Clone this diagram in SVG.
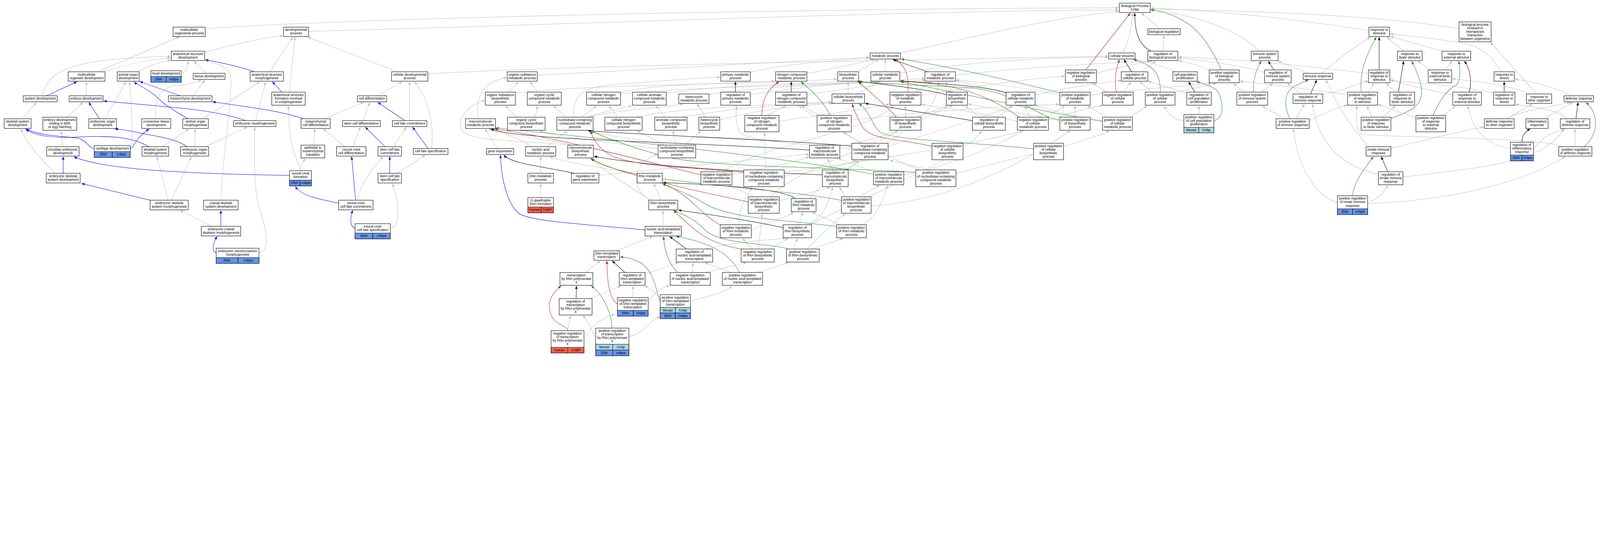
<svg xmlns="http://www.w3.org/2000/svg" width="6129" height="1373" viewBox="0 0 6129 1373">
<style>
svg{max-width:100%;height:auto}
.bx{fill:#fff;stroke:#000;stroke-width:1.6}
.zf{fill:#6495ed;stroke:#000;stroke-width:1.5}
.ms{fill:#add8e6;stroke:#000;stroke-width:1.5}
.hu{fill:#ff6347;stroke:#000;stroke-width:1.5}
text{font-family:"Liberation Sans",Arial,sans-serif;font-size:13px;text-anchor:middle;fill:#000}
#edges path{fill:none;stroke-width:1.5}
.g{stroke:#c0c0c0;marker-end:url(#ag)}
.b{stroke:#0000ff;marker-end:url(#ab)}
.k{stroke:#000;marker-end:url(#ak)}
.r{stroke:#b22222;marker-end:url(#ar)}
.v{stroke:#228b22;marker-end:url(#av)}
</style>
<defs>
<marker id="ag" viewBox="0 0 10 8" refX="10" refY="4" markerWidth="12" markerHeight="9.6" markerUnits="userSpaceOnUse" orient="auto"><path d="M0,0L10,4L0,8z" fill="#c0c0c0"/></marker>
<marker id="ab" viewBox="0 0 10 8" refX="10" refY="4" markerWidth="12" markerHeight="9.6" markerUnits="userSpaceOnUse" orient="auto"><path d="M0,0L10,4L0,8z" fill="#0000ff"/></marker>
<marker id="ak" viewBox="0 0 10 8" refX="10" refY="4" markerWidth="12" markerHeight="9.6" markerUnits="userSpaceOnUse" orient="auto"><path d="M0,0L10,4L0,8z" fill="#000"/></marker>
<marker id="ar" viewBox="0 0 10 8" refX="10" refY="4" markerWidth="12" markerHeight="9.6" markerUnits="userSpaceOnUse" orient="auto"><path d="M0,0L10,4L0,8z" fill="#b22222"/></marker>
<marker id="av" viewBox="0 0 10 8" refX="10" refY="4" markerWidth="12" markerHeight="9.6" markerUnits="userSpaceOnUse" orient="auto"><path d="M0,0L10,4L0,8z" fill="#228b22"/></marker>
</defs>
<rect x="0" y="0" width="6129" height="1373" fill="#fff"/>
<g id="edges">
<path class="g" d="M786,110 C1500,60 3500,30 4286,30"/>
<path class="g" d="M1182,120 C2000,100 3500,40 4286,38"/>
<path class="g" d="M784,200 C900,170 1000,145 1084,137"/>
<path class="g" d="M374,275 L688,141"/>
<path class="g" d="M394,275 C500,240 600,225 654,222"/>
<path class="g" d="M526,275 C560,255 610,238 654,230"/>
<path class="g" d="M696,281 C715,276 720,255 720,234"/>
<path class="g" d="M789,281 L743,234"/>
<path class="g" d="M1034,275 L1122,142"/>
<path class="g" d="M160,367 C190,270 260,225 654,216"/>
<path class="g" d="M330,367 L331,313"/>
<path class="g" d="M739,367 L785,306"/>
<path class="g" d="M85,455 L140,392"/>
<path class="g" d="M257,449 L318,392"/>
<path class="g" d="M402,455 L483,313"/>
<path class="g" d="M596,455 C592,380 605,330 690,326 C730,324 755,312 772,306"/>
<path class="g" d="M777,455 L995,313"/>
<path class="g" d="M979,462 L1018,313"/>
<path class="g" d="M240,562 L234,501"/>
<path class="g" d="M500,566 C512,540 505,420 496,313"/>
<path class="g" d="M622,562 L723,494"/>
<path class="g" d="M746,562 L748,494"/>
<path class="g" d="M785,562 L947,487"/>
<path class="g" d="M210,664 C150,600 110,560 79,494"/>
<path class="g" d="M644,767 L601,600"/>
<path class="g" d="M657,767 L733,600"/>
<path class="g" d="M847,767 C850,600 900,330 880,280 C870,255 820,240 786,231"/>
<path class="g" d="M811,867 L690,806"/>
<path class="g" d="M992,968 C1035,965 1020,880 1000,820 C975,750 972,650 976,487"/>
<path class="g" d="M1108,353 L1130,142"/>
<path class="g" d="M1523,275 L1178,142"/>
<path class="g" d="M1639,283 C2200,250 3500,230 4245,215"/>
<path class="g" d="M1444,367 L1541,313"/>
<path class="g" d="M1241,455 L1393,392"/>
<path class="g" d="M1390,462 L1417,392"/>
<path class="g" d="M1569,462 L1569,313"/>
<path class="g" d="M1201,556 L1206,494"/>
<path class="g" d="M1321,562 L1238,494"/>
<path class="g" d="M1353,562 L1380,487"/>
<path class="g" d="M1507,562 L1557,487"/>
<path class="g" d="M1653,569 C1662,480 1650,390 1588,313"/>
<path class="g" d="M1151,654 C1151,620 1105,600 1105,405"/>
<path class="g" d="M1152,654 C1152,635 1160,620 1170,607"/>
<path class="g" d="M1521,664 L1629,594"/>
<path class="g" d="M1369,767 C1375,720 1420,650 1467,600"/>
<path class="g" d="M1495,874 C1530,870 1535,800 1503,703"/>
<path class="g" d="M3449,203 C3700,150 4000,70 4286,44"/>
<path class="g" d="M2058,288 C2500,265 3000,240 3331,219"/>
<path class="g" d="M2874,277 C3000,245 3200,232 3331,222"/>
<path class="g" d="M3391,275 L3391,228"/>
<path class="g" d="M3284,275 L3366,228"/>
<path class="g" d="M3091,282 C3200,260 3300,240 3350,228"/>
<path class="g" d="M3447,280 C3700,240 3950,220 4245,219"/>
<path class="g" d="M1950,353 L1985,313"/>
<path class="g" d="M1974,356 C2300,320 2900,325 3207,303"/>
<path class="g" d="M2060,353 L2030,313"/>
<path class="g" d="M2377,355 C2500,320 2800,320 2969,310"/>
<path class="g" d="M2377,360 C2700,330 3100,330 3345,313"/>
<path class="g" d="M2552,358 C2800,320 3100,320 3360,313"/>
<path class="g" d="M2716,362 C2900,330 3200,325 3375,313"/>
<path class="g" d="M1833,455 C1815,380 1850,310 1941,298"/>
<path class="g" d="M1980,449 L1935,405"/>
<path class="g" d="M2050,449 L2060,405"/>
<path class="g" d="M2171,449 L2119,405"/>
<path class="g" d="M2230,449 L2285,405"/>
<path class="g" d="M2250,449 C2320,425 2380,415 2421,405"/>
<path class="g" d="M2255,449 C2350,420 2550,415 2617,398"/>
<path class="g" d="M2198,449 C2195,360 2230,335 2350,325 C2500,312 2650,300 2759,296"/>
<path class="g" d="M2368,449 L2332,405"/>
<path class="g" d="M2437,449 C2600,410 3000,400 3185,390"/>
<path class="g" d="M2548,449 L2513,405"/>
<path class="g" d="M2612,449 C2800,415 3000,400 3188,393"/>
<path class="g" d="M2703,449 L2670,398"/>
<path class="g" d="M2757,460 C2900,420 3050,405 3190,396"/>
<path class="g" d="M3249,360 L3249,313"/>
<path class="g" d="M3283,360 L3365,313"/>
<path class="g" d="M2190,556 C2100,530 1950,525 1872,494"/>
<path class="g" d="M2185,556 C2050,540 1800,545 1770,500 C1745,450 1800,400 1857,385"/>
<path class="g" d="M2540,556 C2450,530 2300,520 2255,501"/>
<path class="g" d="M2546,556 L2441,501"/>
<path class="g" d="M2588,556 L2578,501"/>
<path class="g" d="M2623,556 L2685,501"/>
<path class="g" d="M2521,570 C2300,540 2150,530 2066,501"/>
<path class="g" d="M1907,569 L1858,494"/>
<path class="g" d="M2096,562 L2172,501"/>
<path class="g" d="M2037,562 C1990,530 1930,510 1880,494"/>
<path class="g" d="M2071,664 L2071,600"/>
<path class="g" d="M2071,757 L2071,703"/>
<path class="g" d="M2441,669 C2300,640 2150,620 2106,600"/>
<path class="g" d="M2532,767 L2504,703"/>
<path class="g" d="M2495,767 C2410,730 2420,620 2521,592"/>
<path class="g" d="M2493,767 C2420,720 2320,660 2263,607"/>
<path class="g" d="M2540,867 L2540,806"/>
<path class="g" d="M2360,961 L2500,906"/>
<path class="g" d="M2240,1044 L2300,999"/>
<path class="g" d="M4445,110 L4372,50"/>
<path class="g" d="M4300,203 C4330,150 4335,90 4338,50"/>
<path class="g" d="M4456,196 L4458,135"/>
<path class="g" d="M4822,196 C4750,120 4600,60 4408,38"/>
<path class="g" d="M5244,117 C5000,80 4700,40 4408,32"/>
<path class="g" d="M5589,110 C5300,60 4800,40 4408,35"/>
<path class="g" d="M4200,280 C4300,255 4380,240 4405,234"/>
<path class="g" d="M4372,275 L4428,234"/>
<path class="g" d="M4632,268 C4600,250 4550,240 4514,232"/>
<path class="g" d="M4844,277 C4750,250 4600,230 4514,222"/>
<path class="g" d="M3660,288 C3900,260 4250,240 4415,234"/>
<path class="g" d="M5242,282 C5000,250 4700,225 4514,218"/>
<path class="g" d="M5013,281 L4895,234"/>
<path class="g" d="M5063,281 C5120,230 5200,170 5250,142"/>
<path class="g" d="M4307,353 L4332,313"/>
<path class="g" d="M4240,353 L4185,319"/>
<path class="g" d="M4415,353 L4366,313"/>
<path class="g" d="M4500,354 C4560,340 4620,330 4660,319"/>
<path class="g" d="M4503,275 C4450,250 4380,232 4340,228"/>
<path class="g" d="M4546,356 C4490,340 4430,320 4397,311"/>
<path class="g" d="M4593,439 L4593,405"/>
<path class="g" d="M4535,462 C4490,460 4470,430 4460,405"/>
<path class="g" d="M4830,353 L4876,319"/>
<path class="g" d="M4765,353 L4725,319"/>
<path class="g" d="M4987,360 L4931,319"/>
<path class="g" d="M5067,362 C5140,350 5200,320 5242,310"/>
<path class="g" d="M4964,455 L4997,398"/>
<path class="g" d="M4920,455 L4835,405"/>
<path class="g" d="M5015,462 C5080,430 5130,410 5162,402"/>
<path class="g" d="M3508,353 L3569,313"/>
<path class="g" d="M3528,365 C3750,330 3950,300 4079,292"/>
<path class="g" d="M4060,365 C3900,330 3750,315 3662,306"/>
<path class="g" d="M4176,365 C4350,340 4550,330 4640,319"/>
<path class="g" d="M2874,362 C3150,320 3400,310 3543,300"/>
<path class="g" d="M3091,362 C3300,330 3450,315 3545,306"/>
<path class="g" d="M3650,353 L3620,313"/>
<path class="g" d="M3854,356 L3662,308"/>
<path class="g" d="M3965,365 C4100,330 4250,315 4295,308"/>
<path class="g" d="M2940,442 L3010,405"/>
<path class="g" d="M2984,465 C3200,430 3350,415 3407,398"/>
<path class="g" d="M3140,442 L3070,405"/>
<path class="g" d="M3261,460 C3600,420 3900,405 4058,400"/>
<path class="g" d="M3510,449 L3630,405"/>
<path class="g" d="M3468,449 L3468,405"/>
<path class="g" d="M3755,449 L3697,405"/>
<path class="g" d="M3821,449 L3880,405"/>
<path class="g" d="M3945,449 L3925,405"/>
<path class="g" d="M4016,462 C4100,430 4180,410 4225,405"/>
<path class="g" d="M3897,465 C3750,430 3600,410 3530,400"/>
<path class="g" d="M4060,462 C3900,430 3760,410 3708,398"/>
<path class="g" d="M4118,449 L4118,405"/>
<path class="g" d="M4240,449 L4165,405"/>
<path class="g" d="M4326,449 L4395,405"/>
<path class="g" d="M4223,462 C4100,440 4000,420 3965,400"/>
<path class="g" d="M3217,560 C3450,520 3590,450 3595,313"/>
<path class="g" d="M3402,560 C3600,500 3800,440 3880,405"/>
<path class="g" d="M3300,549 C3200,480 3100,440 3060,405"/>
<path class="g" d="M3263,570 C3000,545 2850,540 2830,500 C2815,460 2820,430 2822,405"/>
<path class="g" d="M3190,651 L3170,607"/>
<path class="g" d="M3240,651 C3350,600 3500,450 3650,405"/>
<path class="g" d="M2294,672 C2600,640 2900,610 3099,590"/>
<path class="g" d="M2804,670 C2950,640 3050,620 3099,600"/>
<path class="g" d="M2770,658 C2900,560 3350,500 3420,405"/>
<path class="g" d="M3350,660 L3210,607"/>
<path class="g" d="M3462,670 C3800,600 4000,450 4080,405"/>
<path class="g" d="M3004,675 C3150,650 3250,630 3280,614"/>
<path class="g" d="M2932,651 L2929,507"/>
<path class="g" d="M3004,660 C3300,620 3700,560 3920,501"/>
<path class="g" d="M3559,651 L3408,614"/>
<path class="g" d="M3520,651 C3400,600 3300,550 3230,507"/>
<path class="g" d="M3662,665 C3900,600 4150,550 4250,501"/>
<path class="g" d="M2985,770 C3080,740 3150,730 3180,717"/>
<path class="g" d="M2950,754 C3050,650 3350,560 3440,501"/>
<path class="g" d="M2890,754 L2790,710"/>
<path class="g" d="M3100,761 C3150,700 3250,650 3290,614"/>
<path class="g" d="M3240,754 L3215,717"/>
<path class="g" d="M3290,754 L3370,710"/>
<path class="g" d="M3337,790 C3700,760 3950,600 4100,501"/>
<path class="g" d="M2878,880 C2950,850 3020,830 3040,813"/>
<path class="g" d="M2830,861 C2830,780 2870,740 2880,717"/>
<path class="g" d="M3060,861 L3075,813"/>
<path class="g" d="M3100,861 C3300,760 3700,600 3760,501"/>
<path class="g" d="M3090,861 C3150,840 3170,790 3190,717"/>
<path class="g" d="M3220,861 L3110,813"/>
<path class="g" d="M3300,861 C3350,840 3380,780 3400,710"/>
<path class="g" d="M2700,954 C2850,920 2950,920 3010,913"/>
<path class="g" d="M2950,954 L3020,913"/>
<path class="g" d="M2880,954 L2845,913"/>
<path class="g" d="M2905,954 L2920,819"/>
<path class="g" d="M3040,954 L3055,913"/>
<path class="g" d="M3110,954 L3230,913"/>
<path class="g" d="M3090,954 C3150,900 3180,860 3240,819"/>
<path class="g" d="M2650,1044 L2655,1006"/>
<path class="g" d="M2700,1044 L2860,1006"/>
<path class="g" d="M2800,1044 L2700,1006"/>
<path class="g" d="M2900,1044 L3020,1006"/>
<path class="g" d="M2471,1050 L2600,1006"/>
<path class="g" d="M2260,1144 L2380,1095"/>
<path class="g" d="M2424,1140 L2424,1095"/>
<path class="g" d="M2483,1163 C2495,1150 2500,1110 2565,1095"/>
<path class="g" d="M2529,1140 C2510,1120 2480,1100 2468,1095"/>
<path class="g" d="M2645,1153 C2700,1140 2780,1120 2805,1095"/>
<path class="g" d="M2175,1267 L2185,1209"/>
<path class="g" d="M2237,1297 C2255,1290 2245,1240 2355,1204"/>
<path class="g" d="M2282,1290 C2270,1285 2265,1240 2232,1209"/>
<path class="g" d="M2409,1288 C2450,1288 2480,1240 2527,1212"/>
<path class="g" d="M5377,196 L5313,142"/>
<path class="g" d="M5523,196 L5326,140"/>
<path class="g" d="M5480,268 L5430,234"/>
<path class="g" d="M5537,268 L5562,234"/>
<path class="g" d="M5750,275 C5720,220 5680,180 5600,165 C5480,145 5380,135 5325,130"/>
<path class="g" d="M5240,353 L5263,319"/>
<path class="g" d="M5162,362 C5000,340 4850,320 4749,312"/>
<path class="g" d="M5345,353 L5310,319"/>
<path class="g" d="M5565,363 C5450,340 5360,320 5326,304"/>
<path class="g" d="M5721,356 C5600,330 5450,320 5326,308"/>
<path class="g" d="M5858,360 C5800,330 5650,310 5563,302"/>
<path class="g" d="M5886,360 L5710,162"/>
<path class="g" d="M6022,367 C5950,330 5850,310 5803,303"/>
<path class="g" d="M5297,449 L5346,405"/>
<path class="g" d="M5256,449 L5236,405"/>
<path class="g" d="M5527,442 L5577,405"/>
<path class="g" d="M5424,451 L5279,400"/>
<path class="g" d="M5772,455 L5870,398"/>
<path class="g" d="M5773,455 C5830,420 5950,410 6015,391"/>
<path class="g" d="M5915,455 L6025,392"/>
<path class="g" d="M6006,455 C5970,420 5880,410 5805,400"/>
<path class="g" d="M5328,568 C5450,540 5600,500 5684,487"/>
<path class="g" d="M5245,562 C5180,500 5120,400 5080,306"/>
<path class="g" d="M5874,568 C5890,560 5900,520 5996,494"/>
<path class="g" d="M5786,568 C5700,560 5640,500 5622,405"/>
<path class="g" d="M6034,562 L6034,494"/>
<path class="g" d="M5986,562 C5900,525 5400,530 5220,515 C5190,510 5195,450 5198,405"/>
<path class="g" d="M5285,670 C5150,640 5050,560 5028,398"/>
<path class="g" d="M5374,678 C5700,640 5920,620 5990,494"/>
<path class="g" d="M5239,774 C5270,770 5300,740 5317,710"/>
<path class="g" d="M5123,775 C5050,760 4970,650 4955,494"/>
<path class="g" d="M5239,780 C5500,770 5800,720 5996,600"/>
<path class="k" d="M4408,196 C4360,170 4347,120 4347,50"/>
<path class="k" d="M4335,275 L4305,228"/>
<path class="k" d="M3553,275 L3420,228"/>
<path class="k" d="M2817,353 L2817,313"/>
<path class="k" d="M3031,353 L3031,313"/>
<path class="k" d="M3625,363 C3560,345 3450,330 3285,312"/>
<path class="k" d="M3855,356 C3780,330 3600,320 3449,310"/>
<path class="k" d="M3725,462 L3314,396"/>
<path class="k" d="M3101,575 C2600,540 2000,540 1880,494"/>
<path class="k" d="M3263,560 C3000,535 2500,520 2252,501"/>
<path class="k" d="M2200,664 C2100,640 1960,630 1930,594"/>
<path class="k" d="M3150,670 C2900,660 2500,640 2275,599"/>
<path class="k" d="M3046,761 C3000,720 2700,705 2539,700"/>
<path class="k" d="M3000,872 C2850,840 2700,820 2598,805"/>
<path class="k" d="M2630,954 L2565,906"/>
<path class="k" d="M2394,1044 L2345,999"/>
<path class="k" d="M2207,1144 L2208,1095"/>
<path class="k" d="M4577,353 L4553,313"/>
<path class="k" d="M4880,268 L4858,234"/>
<path class="k" d="M5020,360 L5044,306"/>
<path class="k" d="M5283,268 L5283,142"/>
<path class="k" d="M5357,353 L5377,234"/>
<path class="k" d="M5628,353 C5640,310 5630,260 5609,234"/>
<path class="k" d="M5762,353 L5762,313"/>
<path class="k" d="M6037,455 L6045,392"/>
<path class="k" d="M5830,545 C5830,520 5840,505 5862,494"/>
<path class="k" d="M5316,658 L5291,600"/>
<path class="r" d="M4159,268 L4330,50"/>
<path class="r" d="M4276,353 C4268,300 4275,260 4289,228"/>
<path class="r" d="M3477,353 C3482,290 3470,250 3428,228"/>
<path class="r" d="M2918,442 C2920,380 2940,340 2985,313"/>
<path class="r" d="M3434,449 C3400,410 3330,350 3288,313"/>
<path class="r" d="M3905,449 C3800,380 3700,320 3449,312"/>
<path class="r" d="M3570,561 C3450,530 3330,540 3300,480 C3280,440 3270,420 3265,398"/>
<path class="r" d="M2685,670 C2400,600 2100,520 1895,494"/>
<path class="r" d="M2849,660 C2650,640 2450,640 2350,600 C2290,570 2270,530 2263,501"/>
<path class="r" d="M2866,773 C2650,730 2350,660 2262,607"/>
<path class="r" d="M2759,862 C2680,820 2640,740 2537,703"/>
<path class="r" d="M2839,954 C2700,930 2660,880 2580,806"/>
<path class="r" d="M2597,1044 C2560,1010 2545,960 2542,906"/>
<path class="r" d="M2365,1164 C2340,1150 2325,1100 2325,999"/>
<path class="r" d="M2175,1267 C2170,1240 2110,1250 2105,1180 C2100,1140 2130,1110 2150,1095"/>
<path class="v" d="M4679,268 C4620,140 4560,60 4408,37"/>
<path class="v" d="M4445,353 C4445,280 4420,250 4342,228"/>
<path class="v" d="M4060,356 C3800,290 3600,250 3451,226"/>
<path class="v" d="M3180,442 C3150,380 3100,340 3068,313"/>
<path class="v" d="M4060,460 C3950,440 3900,350 3700,335 C3500,325 3350,320 3290,313"/>
<path class="v" d="M4223,465 C4000,430 3700,360 3449,313"/>
<path class="v" d="M3959,571 C3700,540 3420,540 3370,505 C3340,480 3330,420 3290,398"/>
<path class="v" d="M3346,668 C3000,600 2300,530 1898,490"/>
<path class="v" d="M3508,660 C3200,640 2700,640 2550,600 C2400,560 2300,520 2265,501"/>
<path class="v" d="M3223,768 C3100,740 2800,720 2500,680 C2350,650 2290,630 2267,607"/>
<path class="v" d="M3205,868 C3000,840 2800,840 2700,780 C2620,730 2560,720 2539,703"/>
<path class="v" d="M3020,954 C2950,930 2760,940 2700,880 C2650,830 2600,815 2580,806"/>
<path class="v" d="M2833,1044 C2790,960 2700,925 2590,906"/>
<path class="v" d="M2529,1153 C2515,1140 2515,1040 2450,1005 C2420,990 2400,985 2375,985"/>
<path class="v" d="M2345,1257 C2340,1180 2300,1120 2264,1095"/>
<path class="v" d="M4801,353 C4800,300 4815,260 4832,234"/>
<path class="v" d="M4650,462 C4690,455 4690,390 4661,345 C4640,330 4610,320 4583,313"/>
<path class="v" d="M4941,455 C4915,400 4920,350 4960,330 C4985,318 5000,310 5013,306"/>
<path class="v" d="M5215,353 C5205,270 5240,200 5272,142"/>
<path class="v" d="M5328,454 C5420,420 5450,400 5445,340 C5440,300 5420,260 5408,234"/>
<path class="v" d="M5490,442 C5520,370 5550,340 5580,325 C5595,310 5595,260 5587,234"/>
<path class="v" d="M6068,562 C6120,520 6130,440 6075,392"/>
<path class="v" d="M5181,750 C5185,700 5230,640 5261,600"/>
<path class="b" d="M972,274 C900,250 820,235 786,229"/>
<path class="b" d="M178,367 L295,313"/>
<path class="b" d="M690,367 L535,312"/>
<path class="b" d="M381,455 L340,392"/>
<path class="b" d="M719,455 C680,430 640,410 610,380 C570,340 530,330 514,313"/>
<path class="b" d="M941,462 C880,440 800,425 700,415 C550,400 450,392 397,387"/>
<path class="b" d="M361,569 C335,565 335,535 290,528 C200,520 140,515 100,494"/>
<path class="b" d="M499,569 C515,565 515,530 572,494"/>
<path class="b" d="M570,562 C500,520 400,520 300,525 C200,530 130,520 98,494"/>
<path class="b" d="M717,562 C670,530 610,525 540,510 C490,500 460,495 440,494"/>
<path class="b" d="M242,664 L242,600"/>
<path class="b" d="M575,767 L312,703"/>
<path class="b" d="M846,867 L846,806"/>
<path class="b" d="M828,968 C810,965 815,930 832,906"/>
<path class="b" d="M1109,672 C700,665 400,650 283,601"/>
<path class="b" d="M1080,353 L1043,313"/>
<path class="b" d="M1161,455 C1080,425 950,410 814,390"/>
<path class="b" d="M1551,462 L1447,392"/>
<path class="b" d="M1475,562 L1399,487"/>
<path class="b" d="M1640,569 L1580,487"/>
<path class="b" d="M1493,664 L1493,600"/>
<path class="b" d="M1362,767 L1347,600"/>
<path class="b" d="M1297,778 C1230,765 1150,750 1132,714"/>
<path class="b" d="M1360,874 C1340,870 1340,830 1352,806"/>
<path class="b" d="M2471,881 C2250,860 2050,850 1990,820 C1940,780 1920,680 1917,594"/>
</g>
<g id="d1"><rect class="bx" x="663" y="104" width="123" height="36"/><text x="724.5" y="118.8">multicellular<tspan x="724.5" dy="13.5">organismal process</tspan></text></g>
<g id="d2"><rect class="bx" x="656" y="196" width="128" height="36"/><text x="720" y="210.8">anatomical structure<tspan x="720" dy="13.5">development</tspan></text></g>
<g id="d3"><rect class="bx" x="261" y="275" width="141" height="36"/><text x="331.5" y="289.8">multicellular<tspan x="331.5" dy="13.5">organism development</tspan></text></g>
<g id="d4"><rect class="bx" x="449" y="275" width="84" height="36"/><text x="491" y="289.8">animal organ<tspan x="491" dy="13.5">development</tspan></text></g>
<g id="d5"><rect class="bx" x="578" y="271" width="116" height="44"/><text x="636" y="285.5">head development</text><rect class="zf" x="578" y="293" width="59" height="22"/><rect class="zf" x="637" y="293" width="57" height="22"/><text x="607.5" y="308">Zfish</text><text x="665.5" y="308">cnbpa</text></g>
<g id="d6"><rect class="bx" x="740" y="281" width="122" height="23"/><text x="801" y="296">tissue development</text></g>
<g id="d7"><rect class="bx" x="958" y="275" width="128" height="36"/><text x="1022" y="289.8">anatomical structure<tspan x="1022" dy="13.5">morphogenesis</tspan></text></g>
<g id="d8"><rect class="bx" x="89" y="367" width="130" height="23"/><text x="154" y="382">system development</text></g>
<g id="d9"><rect class="bx" x="265" y="367" width="130" height="23"/><text x="330" y="382">embryo development</text></g>
<g id="d10"><rect class="bx" x="645" y="367" width="167" height="23"/><text x="728.5" y="382">mesenchyme development</text></g>
<g id="d11"><rect class="bx" x="16" y="455" width="103" height="37"/><text x="67.5" y="470.3">skeletal system<tspan x="67.5" dy="13.5">development</tspan></text></g>
<g id="d12"><rect class="bx" x="164" y="449" width="130" height="50"/><text x="229" y="464">embryo development<tspan x="229" dy="13.5">ending in birth</tspan><tspan x="229" dy="13.5">or egg hatching</tspan></text></g>
<g id="d13"><rect class="bx" x="340" y="455" width="106" height="37"/><text x="393" y="470.3">embryonic organ<tspan x="393" dy="13.5">development</tspan></text></g>
<g id="d14"><rect class="bx" x="543" y="455" width="111" height="37"/><text x="598.5" y="470.3">connective tissue<tspan x="598.5" dy="13.5">development</tspan></text></g>
<g id="d15"><rect class="bx" x="700" y="455" width="98" height="37"/><text x="749" y="470.3">animal organ<tspan x="749" dy="13.5">morphogenesis</tspan></text></g>
<g id="d16"><rect class="bx" x="895" y="462" width="162" height="23"/><text x="976" y="477">embryonic morphogenesis</text></g>
<g id="d17"><rect class="bx" x="179" y="562" width="124" height="36"/><text x="241" y="576.8">chordate embryonic<tspan x="241" dy="13.5">development</tspan></text></g>
<g id="d18"><rect class="bx" x="361" y="558" width="138" height="45"/><text x="430" y="573">cartilage development</text><rect class="zf" x="361" y="581" width="69" height="22"/><rect class="zf" x="430" y="581" width="69" height="22"/><text x="395.5" y="596">Zfish</text><text x="464.5" y="596">cnbpa</text></g>
<g id="d19"><rect class="bx" x="544" y="562" width="102" height="36"/><text x="595" y="576.8">skeletal system<tspan x="595" dy="13.5">morphogenesis</tspan></text></g>
<g id="d20"><rect class="bx" x="692" y="562" width="107" height="36"/><text x="745.5" y="576.8">embryonic organ<tspan x="745.5" dy="13.5">morphogenesis</tspan></text></g>
<g id="d21"><rect class="bx" x="177" y="664" width="130" height="37"/><text x="242" y="679.3">embryonic skeletal<tspan x="242" dy="13.5">system development</tspan></text></g>
<g id="d22"><rect class="bx" x="575" y="767" width="146" height="37"/><text x="648" y="782.3">embryonic skeletal<tspan x="648" dy="13.5">system morphogenesis</tspan></text></g>
<g id="d23"><rect class="bx" x="780" y="767" width="132" height="37"/><text x="846" y="782.3">cranial skeletal<tspan x="846" dy="13.5">system development</tspan></text></g>
<g id="d24"><rect class="bx" x="771" y="867" width="151" height="37"/><text x="846.5" y="882.3">embryonic cranial<tspan x="846.5" dy="13.5">skeleton morphogenesis</tspan></text></g>
<g id="d25"><rect class="bx" x="828" y="951" width="164" height="58"/><text x="910" y="965.8">embryonic viscerocranium<tspan x="910" dy="13.5">morphogenesis</tspan></text><rect class="zf" x="828" y="987" width="83" height="22"/><rect class="zf" x="911" y="987" width="81" height="22"/><text x="869.5" y="1002">Zfish</text><text x="951.5" y="1002">cnbpa</text></g>
<g id="d26"><rect class="bx" x="1086" y="104" width="96" height="36"/><text x="1134" y="118.8">developmental<tspan x="1134" dy="13.5">process</tspan></text></g>
<g id="d27"><rect class="bx" x="1041" y="353" width="128" height="50"/><text x="1105" y="368">anatomical structure<tspan x="1105" dy="13.5">formation involved</tspan><tspan x="1105" dy="13.5">in morphogenesis</tspan></text></g>
<g id="d28"><rect class="bx" x="1500" y="275" width="139" height="36"/><text x="1569.5" y="289.8">cellular developmental<tspan x="1569.5" dy="13.5">process</tspan></text></g>
<g id="d29"><rect class="bx" x="1369" y="367" width="112" height="23"/><text x="1425" y="382">cell differentiation</text></g>
<g id="d30"><rect class="bx" x="1153" y="455" width="112" height="37"/><text x="1209" y="470.3">mesenchymal<tspan x="1209" dy="13.5">cell differentiation</tspan></text></g>
<g id="d31"><rect class="bx" x="1312" y="462" width="145" height="23"/><text x="1384.5" y="477">stem cell differentiation</text></g>
<g id="d32"><rect class="bx" x="1503" y="462" width="132" height="23"/><text x="1569" y="477">cell fate commitment</text></g>
<g id="d33"><rect class="bx" x="1153" y="556" width="91" height="49"/><text x="1198.5" y="570.5">epithelial to<tspan x="1198.5" dy="13.5">mesenchymal</tspan><tspan x="1198.5" dy="13.5">transition</tspan></text></g>
<g id="d34"><rect class="bx" x="1289" y="562" width="113" height="36"/><text x="1345.5" y="576.8">neural crest<tspan x="1345.5" dy="13.5">cell differentiation</tspan></text></g>
<g id="d35"><rect class="bx" x="1448" y="562" width="90" height="36"/><text x="1493" y="576.8">stem cell fate<tspan x="1493" dy="13.5">commitment</tspan></text></g>
<g id="d36"><rect class="bx" x="1583" y="569" width="133" height="23"/><text x="1649.5" y="584">cell fate specification</text></g>
<g id="d37"><rect class="bx" x="1109" y="654" width="84" height="58"/><text x="1151" y="668.8">neural crest<tspan x="1151" dy="13.5">formation</tspan></text><rect class="zf" x="1109" y="690" width="40" height="22"/><rect class="zf" x="1149" y="690" width="44" height="22"/><text x="1129" y="705">Zfish</text><text x="1171" y="705">cnbpa</text></g>
<g id="d38"><rect class="bx" x="1448" y="664" width="90" height="37"/><text x="1493" y="679.3">stem cell fate<tspan x="1493" dy="13.5">specification</tspan></text></g>
<g id="d39"><rect class="bx" x="1297" y="767" width="132" height="37"/><text x="1363" y="782.3">neural crest<tspan x="1363" dy="13.5">cell fate commitment</tspan></text></g>
<g id="d40"><rect class="bx" x="1360" y="857" width="135" height="58"/><text x="1427.5" y="871.8">neural crest<tspan x="1427.5" dy="13.5">cell fate specification</tspan></text><rect class="zf" x="1360" y="893" width="68" height="22"/><rect class="zf" x="1428" y="893" width="67" height="22"/><text x="1394" y="908">Zfish</text><text x="1461.5" y="908">cnbpa</text></g>
<g id="m1"><rect class="bx" x="3333" y="203" width="116" height="23"/><text x="3391" y="218">metabolic process</text></g>
<g id="m2"><rect class="bx" x="1943" y="275" width="115" height="36"/><text x="2000.5" y="289.8">organic substance<tspan x="2000.5" dy="13.5">metabolic process</tspan></text></g>
<g id="m3"><rect class="bx" x="2761" y="275" width="113" height="36"/><text x="2817.5" y="289.8">primary metabolic<tspan x="2817.5" dy="13.5">process</tspan></text></g>
<g id="m4"><rect class="bx" x="2971" y="275" width="120" height="36"/><text x="3031" y="289.8">nitrogen compound<tspan x="3031" dy="13.5">metabolic process</tspan></text></g>
<g id="m5"><rect class="bx" x="3209" y="275" width="80" height="36"/><text x="3249" y="289.8">biosynthetic<tspan x="3249" dy="13.5">process</tspan></text></g>
<g id="m6"><rect class="bx" x="3336" y="275" width="111" height="36"/><text x="3391.5" y="289.8">cellular metabolic<tspan x="3391.5" dy="13.5">process</tspan></text></g>
<g id="m7"><rect class="bx" x="3543" y="275" width="117" height="36"/><text x="3601.5" y="289.8">regulation of<tspan x="3601.5" dy="13.5">metabolic process</tspan></text></g>
<g id="m8"><rect class="bx" x="1859" y="353" width="115" height="50"/><text x="1916.5" y="368">organic substance<tspan x="1916.5" dy="13.5">biosynthetic</tspan><tspan x="1916.5" dy="13.5">process</tspan></text></g>
<g id="m9"><rect class="bx" x="2020" y="353" width="130" height="50"/><text x="2085" y="368">organic cyclic<tspan x="2085" dy="13.5">compound metabolic</tspan><tspan x="2085" dy="13.5">process</tspan></text></g>
<g id="m10"><rect class="bx" x="2247" y="353" width="130" height="50"/><text x="2312" y="368">cellular nitrogen<tspan x="2312" dy="13.5">compound metabolic</tspan><tspan x="2312" dy="13.5">process</tspan></text></g>
<g id="m11"><rect class="bx" x="2423" y="353" width="129" height="50"/><text x="2487.5" y="368">cellular aromatic<tspan x="2487.5" dy="13.5">compound metabolic</tspan><tspan x="2487.5" dy="13.5">process</tspan></text></g>
<g id="m12"><rect class="bx" x="2600" y="360" width="116" height="36"/><text x="2658" y="374.8">heterocycle<tspan x="2658" dy="13.5">metabolic process</tspan></text></g>
<g id="m13"><rect class="bx" x="2761" y="353" width="113" height="50"/><text x="2817.5" y="368">regulation of<tspan x="2817.5" dy="13.5">primary metabolic</tspan><tspan x="2817.5" dy="13.5">process</tspan></text></g>
<g id="m14"><rect class="bx" x="2971" y="353" width="120" height="50"/><text x="3031" y="368">regulation of<tspan x="3031" dy="13.5">nitrogen compound</tspan><tspan x="3031" dy="13.5">metabolic process</tspan></text></g>
<g id="m15"><rect class="bx" x="3187" y="360" width="125" height="36"/><text x="3249.5" y="374.8">cellular biosynthetic<tspan x="3249.5" dy="13.5">process</tspan></text></g>
<g id="m16"><rect class="bx" x="3409" y="353" width="119" height="50"/><text x="3468.5" y="368">negative regulation<tspan x="3468.5" dy="13.5">of metabolic</tspan><tspan x="3468.5" dy="13.5">process</tspan></text></g>
<g id="m17"><rect class="bx" x="3625" y="353" width="81" height="50"/><text x="3665.5" y="368">regulation of<tspan x="3665.5" dy="13.5">biosynthetic</tspan><tspan x="3665.5" dy="13.5">process</tspan></text></g>
<g id="m18"><rect class="bx" x="3854" y="353" width="111" height="50"/><text x="3909.5" y="368">regulation of<tspan x="3909.5" dy="13.5">cellular metabolic</tspan><tspan x="3909.5" dy="13.5">process</tspan></text></g>
<g id="m19"><rect class="bx" x="4060" y="353" width="116" height="50"/><text x="4118" y="368">positive regulation<tspan x="4118" dy="13.5">of metabolic</tspan><tspan x="4118" dy="13.5">process</tspan></text></g>
<g id="m20"><rect class="bx" x="1783" y="455" width="115" height="37"/><text x="1840.5" y="470.3">macromolecule<tspan x="1840.5" dy="13.5">metabolic process</tspan></text></g>
<g id="m21"><rect class="bx" x="1944" y="449" width="144" height="50"/><text x="2016" y="464">organic cyclic<tspan x="2016" dy="13.5">compound biosynthetic</tspan><tspan x="2016" dy="13.5">process</tspan></text></g>
<g id="m22"><rect class="bx" x="2133" y="449" width="139" height="50"/><text x="2202.5" y="464">nucleobase-containing<tspan x="2202.5" dy="13.5">compound metabolic</tspan><tspan x="2202.5" dy="13.5">process</tspan></text></g>
<g id="m23"><rect class="bx" x="2317" y="449" width="143" height="50"/><text x="2388.5" y="464">cellular nitrogen<tspan x="2388.5" dy="13.5">compound biosynthetic</tspan><tspan x="2388.5" dy="13.5">process</tspan></text></g>
<g id="m24"><rect class="bx" x="2508" y="449" width="124" height="50"/><text x="2570" y="464">aromatic compound<tspan x="2570" dy="13.5">biosynthetic</tspan><tspan x="2570" dy="13.5">process</tspan></text></g>
<g id="m25"><rect class="bx" x="2677" y="449" width="80" height="50"/><text x="2717" y="464">heterocycle<tspan x="2717" dy="13.5">biosynthetic</tspan><tspan x="2717" dy="13.5">process</tspan></text></g>
<g id="m26"><rect class="bx" x="2853" y="442" width="131" height="63"/><text x="2918.5" y="456.8">negative regulation<tspan x="2918.5" dy="13.5">of nitrogen</tspan><tspan x="2918.5" dy="13.5">compound metabolic</tspan><tspan x="2918.5" dy="13.5">process</tspan></text></g>
<g id="m27"><rect class="bx" x="3130" y="442" width="131" height="63"/><text x="3195.5" y="456.8">positive regulation<tspan x="3195.5" dy="13.5">of nitrogen</tspan><tspan x="3195.5" dy="13.5">compound metabolic</tspan><tspan x="3195.5" dy="13.5">process</tspan></text></g>
<g id="m28"><rect class="bx" x="3409" y="449" width="119" height="50"/><text x="3468.5" y="464">negative regulation<tspan x="3468.5" dy="13.5">of biosynthetic</tspan><tspan x="3468.5" dy="13.5">process</tspan></text></g>
<g id="m29"><rect class="bx" x="3725" y="449" width="126" height="50"/><text x="3788" y="464">regulation of<tspan x="3788" dy="13.5">cellular biosynthetic</tspan><tspan x="3788" dy="13.5">process</tspan></text></g>
<g id="m30"><rect class="bx" x="3897" y="449" width="119" height="50"/><text x="3956.5" y="464">negative regulation<tspan x="3956.5" dy="13.5">of cellular</tspan><tspan x="3956.5" dy="13.5">metabolic process</tspan></text></g>
<g id="m31"><rect class="bx" x="4060" y="449" width="116" height="50"/><text x="4118" y="464">positive regulation<tspan x="4118" dy="13.5">of biosynthetic</tspan><tspan x="4118" dy="13.5">process</tspan></text></g>
<g id="m40"><rect class="bx" x="4223" y="449" width="115" height="50"/><text x="4280.5" y="464">positive regulation<tspan x="4280.5" dy="13.5">of cellular</tspan><tspan x="4280.5" dy="13.5">metabolic process</tspan></text></g>
<g id="m32"><rect class="bx" x="1863" y="569" width="105" height="23"/><text x="1915.5" y="584">gene expression</text></g>
<g id="m33"><rect class="bx" x="2013" y="562" width="116" height="36"/><text x="2071" y="576.8">nucleic acid<tspan x="2071" dy="13.5">metabolic process</tspan></text></g>
<g id="m34"><rect class="bx" x="2175" y="556" width="98" height="49"/><text x="2224" y="570.5">macromolecule<tspan x="2224" dy="13.5">biosynthetic</tspan><tspan x="2224" dy="13.5">process</tspan></text></g>
<g id="m35"><rect class="bx" x="2521" y="556" width="144" height="49"/><text x="2593" y="570.5">nucleobase-containing<tspan x="2593" dy="13.5">compound biosynthetic</tspan><tspan x="2593" dy="13.5">process</tspan></text></g>
<g id="m36"><rect class="bx" x="3101" y="556" width="116" height="49"/><text x="3159" y="570.5">regulation of<tspan x="3159" dy="13.5">macromolecule</tspan><tspan x="3159" dy="13.5">metabolic process</tspan></text></g>
<g id="m37"><rect class="bx" x="3263" y="549" width="139" height="63"/><text x="3332.5" y="563.8">regulation of<tspan x="3332.5" dy="13.5">nucleobase-containing</tspan><tspan x="3332.5" dy="13.5">compound metabolic</tspan><tspan x="3332.5" dy="13.5">process</tspan></text></g>
<g id="m38"><rect class="bx" x="3570" y="549" width="119" height="63"/><text x="3629.5" y="563.8">negative regulation<tspan x="3629.5" dy="13.5">of cellular</tspan><tspan x="3629.5" dy="13.5">biosynthetic</tspan><tspan x="3629.5" dy="13.5">process</tspan></text></g>
<g id="m39"><rect class="bx" x="3959" y="549" width="115" height="63"/><text x="4016.5" y="563.8">positive regulation<tspan x="4016.5" dy="13.5">of cellular</tspan><tspan x="4016.5" dy="13.5">biosynthetic</tspan><tspan x="4016.5" dy="13.5">process</tspan></text></g>
<g id="m41"><rect class="bx" x="2022" y="664" width="98" height="37"/><text x="2071" y="679.3">DNA metabolic<tspan x="2071" dy="13.5">process</tspan></text></g>
<g id="m42"><rect class="bx" x="2022" y="757" width="98" height="58"/><text x="2071" y="771.8">G-quadruplex<tspan x="2071" dy="13.5">DNA formation</tspan></text><rect class="hu" x="2022" y="793" width="51" height="22"/><rect class="hu" x="2073" y="793" width="47" height="22"/><text x="2047.5" y="808">Human</text><text x="2096.5" y="808">CNBP</text></g>
<g id="m43"><rect class="bx" x="2189" y="664" width="105" height="37"/><text x="2241.5" y="679.3">regulation of<tspan x="2241.5" dy="13.5">gene expression</tspan></text></g>
<g id="m44"><rect class="bx" x="2441" y="664" width="96" height="37"/><text x="2489" y="679.3">RNA metabolic<tspan x="2489" dy="13.5">process</tspan></text></g>
<g id="m45"><rect class="bx" x="2685" y="658" width="119" height="50"/><text x="2744.5" y="673">negative regulation<tspan x="2744.5" dy="13.5">of macromolecule</tspan><tspan x="2744.5" dy="13.5">metabolic process</tspan></text></g>
<g id="m46"><rect class="bx" x="2849" y="651" width="155" height="64"/><text x="2926.5" y="666.3">negative regulation<tspan x="2926.5" dy="13.5">of nucleobase-containing</tspan><tspan x="2926.5" dy="13.5">compound metabolic</tspan><tspan x="2926.5" dy="13.5">process</tspan></text></g>
<g id="m47"><rect class="bx" x="3150" y="651" width="99" height="64"/><text x="3199.5" y="666.3">regulation of<tspan x="3199.5" dy="13.5">macromolecule</tspan><tspan x="3199.5" dy="13.5">biosynthetic</tspan><tspan x="3199.5" dy="13.5">process</tspan></text></g>
<g id="m48"><rect class="bx" x="3346" y="658" width="116" height="50"/><text x="3404" y="673">positive regulation<tspan x="3404" dy="13.5">of macromolecule</tspan><tspan x="3404" dy="13.5">metabolic process</tspan></text></g>
<g id="m49"><rect class="bx" x="3508" y="651" width="154" height="64"/><text x="3585" y="666.3">positive regulation<tspan x="3585" dy="13.5">of nucleobase-containing</tspan><tspan x="3585" dy="13.5">compound metabolic</tspan><tspan x="3585" dy="13.5">process</tspan></text></g>
<g id="m50"><rect class="bx" x="2485" y="767" width="111" height="37"/><text x="2540.5" y="782.3">RNA biosynthetic<tspan x="2540.5" dy="13.5">process</tspan></text></g>
<g id="m51"><rect class="bx" x="2866" y="754" width="119" height="63"/><text x="2925.5" y="768.8">negative regulation<tspan x="2925.5" dy="13.5">of macromolecule</tspan><tspan x="2925.5" dy="13.5">biosynthetic</tspan><tspan x="2925.5" dy="13.5">process</tspan></text></g>
<g id="m52"><rect class="bx" x="3031" y="761" width="95" height="50"/><text x="3078.5" y="776">regulation of<tspan x="3078.5" dy="13.5">RNA metabolic</tspan><tspan x="3078.5" dy="13.5">process</tspan></text></g>
<g id="m53"><rect class="bx" x="3223" y="754" width="114" height="63"/><text x="3280" y="768.8">positive regulation<tspan x="3280" dy="13.5">of macromolecule</tspan><tspan x="3280" dy="13.5">biosynthetic</tspan><tspan x="3280" dy="13.5">process</tspan></text></g>
<g id="m54"><rect class="bx" x="2471" y="867" width="139" height="37"/><text x="2540.5" y="882.3">nucleic acid-templated<tspan x="2540.5" dy="13.5">transcription</tspan></text></g>
<g id="m55"><rect class="bx" x="2759" y="861" width="119" height="50"/><text x="2818.5" y="876">negative regulation<tspan x="2818.5" dy="13.5">of RNA metabolic</tspan><tspan x="2818.5" dy="13.5">process</tspan></text></g>
<g id="m56"><rect class="bx" x="3000" y="861" width="109" height="50"/><text x="3054.5" y="876">regulation of<tspan x="3054.5" dy="13.5">RNA biosynthetic</tspan><tspan x="3054.5" dy="13.5">process</tspan></text></g>
<g id="m57"><rect class="bx" x="3205" y="861" width="114" height="50"/><text x="3262" y="876">positive regulation<tspan x="3262" dy="13.5">of RNA metabolic</tspan><tspan x="3262" dy="13.5">process</tspan></text></g>
<g id="m58"><rect class="bx" x="2275" y="961" width="98" height="36"/><text x="2324" y="975.8">DNA-templated<tspan x="2324" dy="13.5">transcription</tspan></text></g>
<g id="m59"><rect class="bx" x="2590" y="954" width="140" height="50"/><text x="2660" y="969">regulation of<tspan x="2660" dy="13.5">nucleic acid-templated</tspan><tspan x="2660" dy="13.5">transcription</tspan></text></g>
<g id="m60"><rect class="bx" x="2839" y="954" width="127" height="50"/><text x="2902.5" y="969">negative regulation<tspan x="2902.5" dy="13.5">of RNA biosynthetic</tspan><tspan x="2902.5" dy="13.5">process</tspan></text></g>
<g id="m61"><rect class="bx" x="3013" y="954" width="125" height="50"/><text x="3075.5" y="969">positive regulation<tspan x="3075.5" dy="13.5">of RNA biosynthetic</tspan><tspan x="3075.5" dy="13.5">process</tspan></text></g>
<g id="m62"><rect class="bx" x="2145" y="1044" width="126" height="49"/><text x="2208" y="1058.5">transcription<tspan x="2208" dy="13.5">by RNA polymerase</tspan><tspan x="2208" dy="13.5">II</tspan></text></g>
<g id="m63"><rect class="bx" x="2372" y="1044" width="99" height="49"/><text x="2421.5" y="1058.5">regulation of<tspan x="2421.5" dy="13.5">DNA-templated</tspan><tspan x="2421.5" dy="13.5">transcription</tspan></text></g>
<g id="m64"><rect class="bx" x="2567" y="1044" width="154" height="49"/><text x="2644" y="1058.5">negative regulation<tspan x="2644" dy="13.5">of nucleic acid-templated</tspan><tspan x="2644" dy="13.5">transcription</tspan></text></g>
<g id="m65"><rect class="bx" x="2767" y="1044" width="154" height="49"/><text x="2844" y="1058.5">positive regulation<tspan x="2844" dy="13.5">of nucleic acid-templated</tspan><tspan x="2844" dy="13.5">transcription</tspan></text></g>
<g id="m66"><rect class="bx" x="2142" y="1144" width="126" height="63"/><text x="2205" y="1158.8">regulation of<tspan x="2205" dy="13.5">transcription</tspan><tspan x="2205" dy="13.5">by RNA polymerase</tspan><tspan x="2205" dy="13.5">II</tspan></text></g>
<g id="m67"><rect class="bx" x="2365" y="1140" width="118" height="71"/><text x="2424" y="1154.5">negative regulation<tspan x="2424" dy="13.5">of DNA-templated</tspan><tspan x="2424" dy="13.5">transcription</tspan></text><rect class="zf" x="2365" y="1189" width="61" height="22"/><rect class="zf" x="2426" y="1189" width="57" height="22"/><text x="2395.5" y="1204">Zfish</text><text x="2454.5" y="1204">cnbpa</text></g>
<g id="m68"><rect class="bx" x="2529" y="1129" width="116" height="92"/><text x="2587" y="1143.5">positive regulation<tspan x="2587" dy="13.5">of DNA-templated</tspan><tspan x="2587" dy="13.5">transcription</tspan></text><rect class="ms" x="2529" y="1178" width="58" height="21"/><rect class="ms" x="2587" y="1178" width="58" height="21"/><rect class="zf" x="2529" y="1199" width="58" height="22"/><rect class="zf" x="2587" y="1199" width="58" height="22"/><text x="2558" y="1193">Mouse</text><text x="2616" y="1193">Cnbp</text><text x="2558" y="1214.5">Zfish</text><text x="2616" y="1214.5">cnbpa</text></g>
<g id="m69"><rect class="bx" x="2111" y="1267" width="126" height="85"/><text x="2174" y="1282.3">negative regulation<tspan x="2174" dy="13.5">of transcription</tspan><tspan x="2174" dy="13.5">by RNA polymerase</tspan><tspan x="2174" dy="13.5">II</tspan></text><rect class="hu" x="2111" y="1331" width="64" height="21"/><rect class="hu" x="2175" y="1331" width="62" height="21"/><text x="2143" y="1345.5">Human</text><text x="2206" y="1345.5">CNBP</text></g>
<g id="m70"><rect class="bx" x="2282" y="1257" width="127" height="106"/><text x="2345.5" y="1271.3">positive regulation<tspan x="2345.5" dy="13.5">of transcription</tspan><tspan x="2345.5" dy="13.5">by RNA polymerase</tspan><tspan x="2345.5" dy="13.5">II</tspan></text><rect class="ms" x="2282" y="1319" width="65" height="22"/><rect class="ms" x="2347" y="1319" width="62" height="22"/><rect class="zf" x="2282" y="1341" width="65" height="22"/><rect class="zf" x="2347" y="1341" width="62" height="22"/><text x="2314.5" y="1334">Mouse</text><text x="2378" y="1334">Cnbp</text><text x="2314.5" y="1356">Zfish</text><text x="2378" y="1356">cnbpa</text></g>
<g id="r1"><rect class="bx" x="4288" y="12" width="118" height="36"/><text x="4347" y="26.8">Biological Process<tspan x="4347" dy="13.5">Cnbp</tspan></text></g>
<g id="r2"><rect class="bx" x="4397" y="110" width="124" height="23"/><text x="4459" y="125">biological regulation</text></g>
<g id="r3"><rect class="bx" x="4247" y="203" width="101" height="23"/><text x="4297.5" y="218">cellular process</text></g>
<g id="r4"><rect class="bx" x="4397" y="196" width="115" height="36"/><text x="4454.5" y="210.8">regulation of<tspan x="4454.5" dy="13.5">biological process</tspan></text></g>
<g id="r5"><rect class="bx" x="4793" y="196" width="103" height="36"/><text x="4844.5" y="210.8">immune system<tspan x="4844.5" dy="13.5">process</tspan></text></g>
<g id="r6"><rect class="bx" x="4081" y="268" width="119" height="49"/><text x="4140.5" y="282.5">negative regulation<tspan x="4140.5" dy="13.5">of biological</tspan><tspan x="4140.5" dy="13.5">process</tspan></text></g>
<g id="r7"><rect class="bx" x="4295" y="275" width="102" height="36"/><text x="4346" y="289.8">regulation of<tspan x="4346" dy="13.5">cellular process</tspan></text></g>
<g id="r8"><rect class="bx" x="4493" y="275" width="93" height="36"/><text x="4539.5" y="289.8">cell population<tspan x="4539.5" dy="13.5">proliferation</tspan></text></g>
<g id="r9"><rect class="bx" x="4632" y="268" width="115" height="49"/><text x="4689.5" y="282.5">positive regulation<tspan x="4689.5" dy="13.5">of biological</tspan><tspan x="4689.5" dy="13.5">process</tspan></text></g>
<g id="r10"><rect class="bx" x="4844" y="268" width="102" height="49"/><text x="4895" y="282.5">regulation of<tspan x="4895" dy="13.5">immune system</tspan><tspan x="4895" dy="13.5">process</tspan></text></g>
<g id="r11"><rect class="bx" x="4992" y="281" width="113" height="23"/><text x="5048.5" y="296">immune response</text></g>
<g id="r12"><rect class="bx" x="4223" y="353" width="118" height="50"/><text x="4282" y="368">negative regulation<tspan x="4282" dy="13.5">of cellular</tspan><tspan x="4282" dy="13.5">process</tspan></text></g>
<g id="r13"><rect class="bx" x="4387" y="353" width="114" height="50"/><text x="4444" y="368">positive regulation<tspan x="4444" dy="13.5">of cellular</tspan><tspan x="4444" dy="13.5">process</tspan></text></g>
<g id="r14"><rect class="bx" x="4546" y="353" width="94" height="50"/><text x="4593" y="368">regulation of<tspan x="4593" dy="13.5">cell population</tspan><tspan x="4593" dy="13.5">proliferation</tspan></text></g>
<g id="r15"><rect class="bx" x="4738" y="353" width="118" height="50"/><text x="4797" y="368">positive regulation<tspan x="4797" dy="13.5">of immune system</tspan><tspan x="4797" dy="13.5">process</tspan></text></g>
<g id="r16"><rect class="bx" x="4953" y="360" width="114" height="36"/><text x="5010" y="374.8">regulation of<tspan x="5010" dy="13.5">immune response</tspan></text></g>
<g id="r17"><rect class="bx" x="4535" y="439" width="115" height="70"/><text x="4592.5" y="453.5">positive regulation<tspan x="4592.5" dy="13.5">of cell population</tspan><tspan x="4592.5" dy="13.5">proliferation</tspan></text><rect class="ms" x="4535" y="488" width="57" height="21"/><rect class="ms" x="4592" y="488" width="58" height="21"/><text x="4563.5" y="502.5">Mouse</text><text x="4621" y="502.5">Cnbp</text></g>
<g id="r18"><rect class="bx" x="4888" y="455" width="127" height="37"/><text x="4951.5" y="470.3">positive regulation<tspan x="4951.5" dy="13.5">of immune response</tspan></text></g>
<g id="s1"><rect class="bx" x="5244" y="104" width="79" height="36"/><text x="5283.5" y="118.8">response to<tspan x="5283.5" dy="13.5">stimulus</tspan></text></g>
<g id="s2"><rect class="bx" x="5589" y="84" width="123" height="76"/><text x="5650.5" y="98.5">biological process<tspan x="5650.5" dy="13.5">involved in</tspan><tspan x="5650.5" dy="13.5">interspecies</tspan><tspan x="5650.5" dy="13.5">interaction</tspan><tspan x="5650.5" dy="13.5">between organisms</tspan></text></g>
<g id="s3"><rect class="bx" x="5353" y="196" width="95" height="36"/><text x="5400.5" y="210.8">response to<tspan x="5400.5" dy="13.5">biotic stimulus</tspan></text></g>
<g id="s4"><rect class="bx" x="5524" y="196" width="110" height="36"/><text x="5579" y="210.8">response to<tspan x="5579" dy="13.5">external stimulus</tspan></text></g>
<g id="s5"><rect class="bx" x="5242" y="268" width="82" height="49"/><text x="5283" y="282.5">regulation of<tspan x="5283" dy="13.5">response to</tspan><tspan x="5283" dy="13.5">stimulus</tspan></text></g>
<g id="s6"><rect class="bx" x="5471" y="268" width="90" height="49"/><text x="5516" y="282.5">response to<tspan x="5516" dy="13.5">external biotic</tspan><tspan x="5516" dy="13.5">stimulus</tspan></text></g>
<g id="s7"><rect class="bx" x="5723" y="275" width="78" height="36"/><text x="5762" y="289.8">response to<tspan x="5762" dy="13.5">stress</tspan></text></g>
<g id="s8"><rect class="bx" x="5162" y="353" width="115" height="50"/><text x="5219.5" y="368">positive regulation<tspan x="5219.5" dy="13.5">of response</tspan><tspan x="5219.5" dy="13.5">to stimulus</tspan></text></g>
<g id="s9"><rect class="bx" x="5324" y="353" width="95" height="50"/><text x="5371.5" y="368">regulation of<tspan x="5371.5" dy="13.5">response to</tspan><tspan x="5371.5" dy="13.5">biotic stimulus</tspan></text></g>
<g id="s10"><rect class="bx" x="5565" y="353" width="110" height="50"/><text x="5620" y="368">regulation of<tspan x="5620" dy="13.5">response to</tspan><tspan x="5620" dy="13.5">external stimulus</tspan></text></g>
<g id="s11"><rect class="bx" x="5721" y="353" width="82" height="50"/><text x="5762" y="368">regulation of<tspan x="5762" dy="13.5">response to</tspan><tspan x="5762" dy="13.5">stress</tspan></text></g>
<g id="s12"><rect class="bx" x="5847" y="360" width="97" height="36"/><text x="5895.5" y="374.8">response to<tspan x="5895.5" dy="13.5">other organism</tspan></text></g>
<g id="s13"><rect class="bx" x="5991" y="367" width="113" height="23"/><text x="6047.5" y="382">defense response</text></g>
<g id="s14"><rect class="bx" x="5214" y="449" width="114" height="50"/><text x="5271" y="464">positive regulation<tspan x="5271" dy="13.5">of response</tspan><tspan x="5271" dy="13.5">to biotic stimulus</tspan></text></g>
<g id="s15"><rect class="bx" x="5424" y="442" width="114" height="63"/><text x="5481" y="456.8">positive regulation<tspan x="5481" dy="13.5">of response</tspan><tspan x="5481" dy="13.5">to external</tspan><tspan x="5481" dy="13.5">stimulus</tspan></text></g>
<g id="s16"><rect class="bx" x="5686" y="455" width="114" height="37"/><text x="5743" y="470.3">defense response<tspan x="5743" dy="13.5">to other organism</tspan></text></g>
<g id="s17"><rect class="bx" x="5845" y="455" width="85" height="37"/><text x="5887.5" y="470.3">inflammatory<tspan x="5887.5" dy="13.5">response</tspan></text></g>
<g id="s18"><rect class="bx" x="5977" y="455" width="113" height="37"/><text x="6033.5" y="470.3">regulation of<tspan x="6033.5" dy="13.5">defense response</tspan></text></g>
<g id="s19"><rect class="bx" x="5233" y="562" width="95" height="36"/><text x="5280.5" y="576.8">innate immune<tspan x="5280.5" dy="13.5">response</tspan></text></g>
<g id="s20"><rect class="bx" x="5786" y="545" width="88" height="71"/><text x="5830" y="559.5">regulation of<tspan x="5830" dy="13.5">inflammatory</tspan><tspan x="5830" dy="13.5">response</tspan></text><rect class="zf" x="5786" y="594" width="44" height="22"/><rect class="zf" x="5830" y="594" width="44" height="22"/><text x="5808" y="609">Zfish</text><text x="5852" y="609">cnbpa</text></g>
<g id="s21"><rect class="bx" x="5971" y="562" width="127" height="36"/><text x="6034.5" y="576.8">positive regulation<tspan x="6034.5" dy="13.5">of defense response</tspan></text></g>
<g id="s22"><rect class="bx" x="5280" y="658" width="94" height="50"/><text x="5327" y="673">regulation of<tspan x="5327" dy="13.5">innate immune</tspan><tspan x="5327" dy="13.5">response</tspan></text></g>
<g id="s23"><rect class="bx" x="5123" y="750" width="116" height="72"/><text x="5181" y="765">positive regulation<tspan x="5181" dy="13.5">of innate immune</tspan><tspan x="5181" dy="13.5">response</tspan></text><rect class="zf" x="5123" y="800" width="58" height="22"/><rect class="zf" x="5181" y="800" width="58" height="22"/><text x="5152" y="815">Zfish</text><text x="5210" y="815">cnbpb</text></g>
</svg>
